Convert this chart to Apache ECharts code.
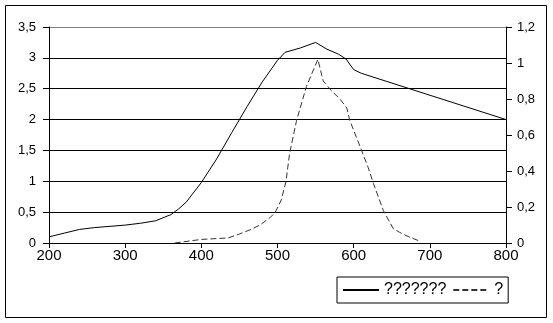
<!DOCTYPE html>
<html>
<head>
<meta charset="utf-8">
<script src="https://cdn.jsdelivr.net/npm/echarts@6/dist/echarts.min.js"></script>
<style>html,body{margin:0;padding:0;background:#fff;}#c{width:553px;height:323px;}</style>
</head>
<body>
<div id="c"></div>
<script>
var seriesNames = ['???????', '?'];
var xTicks = [200, 300, 400, 500, 600, 700, 800];
var solidX = [200, 220, 240, 260, 280, 300, 320, 340, 360, 370, 380, 400, 420, 440, 460, 480, 500, 510, 530, 550, 565, 580, 590, 600, 610, 800];
var solidY = [0.10, 0.16, 0.22, 0.25, 0.27, 0.29, 0.32, 0.36, 0.46, 0.55, 0.66, 0.98, 1.36, 1.79, 2.21, 2.61, 2.96, 3.09, 3.16, 3.25, 3.14, 3.06, 2.98, 2.81, 2.75, 2.0];
var dashX = [365, 400, 435, 450, 465, 477, 490, 497, 505, 511, 516, 525, 538, 549, 553, 560, 570, 582, 591, 595, 608, 619, 626, 639, 652, 660, 667, 675, 687];
var dashY = [0.0, 0.02, 0.028, 0.05, 0.075, 0.1, 0.14, 0.17, 0.24, 0.34, 0.5, 0.68, 0.87, 0.98, 1.02, 0.9, 0.85, 0.8, 0.75, 0.68, 0.54, 0.42, 0.33, 0.18, 0.08, 0.06, 0.045, 0.03, 0.01];

function pairs(xs, ys) { return xs.map(function (x, i) { return [x, ys[i]]; }); }
function comma(v) { return String(Math.round(v * 10) / 10).replace('.', ','); }

var chart = echarts.init(document.getElementById('c'), null, {renderer: 'canvas'});
chart.setOption({
  animation: false,
  backgroundColor: '#fff',
  grid: {left: 49, right: 47, top: 27, bottom: 80, containLabel: false},
  graphic: [{
    type: 'rect', shape: {x: 5.5, y: 5.5, width: 541, height: 312},
    style: {fill: 'none', stroke: '#000', lineWidth: 1}, z: 0
  }],
  legend: {
    left: 337, top: 277,
    padding: [5, 5],
    itemGap: 6, itemWidth: 36, itemHeight: 14,
    borderColor: '#000', borderWidth: 1,
    backgroundColor: '#fff',
    itemStyle: {opacity: 0},
    textStyle: {fontFamily: 'Liberation Sans, Arial', fontSize: 16, color: '#000'},
    data: seriesNames
  },
  xAxis: {
    type: 'value', min: 200, max: 800, interval: 100,
    axisLine: {show: true, lineStyle: {color: '#000', width: 1}},
    axisTick: {show: true, length: 5, lineStyle: {color: '#000'}},
    axisLabel: {margin: 5, fontFamily: 'Liberation Sans, Arial', fontSize: 15, color: '#000'},
    splitLine: {show: false}
  },
  yAxis: [{
    type: 'value', min: 0, max: 3.5, interval: 0.5, position: 'left',
    axisLine: {show: true, lineStyle: {color: '#000', width: 1}},
    axisTick: {show: true, length: 6, lineStyle: {color: '#000'}},
    axisLabel: {margin: 13, fontFamily: 'Liberation Sans, Arial', fontSize: 13, color: '#000', formatter: comma},
    splitLine: {show: true, lineStyle: {color: ['#000', '#000', '#000', '#000', '#000', '#000', '#000', '#808080'], width: 1}}
  }, {
    type: 'value', min: 0, max: 1.2, interval: 0.2, position: 'right',
    axisLine: {show: true, lineStyle: {color: '#000', width: 1}},
    axisTick: {show: true, length: 6, lineStyle: {color: '#000'}},
    axisLabel: {margin: 11, fontFamily: 'Liberation Sans, Arial', fontSize: 13, color: '#000', formatter: comma},
    splitLine: {show: false}
  }],
  series: [{
    name: seriesNames[0], type: 'line', yAxisIndex: 0,
    data: pairs(solidX, solidY),
    showSymbol: false, symbol: 'none',
    lineStyle: {color: '#000', width: 1},
    itemStyle: {color: '#000'}
  }, {
    name: seriesNames[1], type: 'line', yAxisIndex: 1,
    data: pairs(dashX, dashY),
    showSymbol: false, symbol: 'none',
    lineStyle: {color: '#333', width: 1, type: [6, 3]},
    itemStyle: {color: '#333'}
  }]
});
</script>
</body>
</html>
